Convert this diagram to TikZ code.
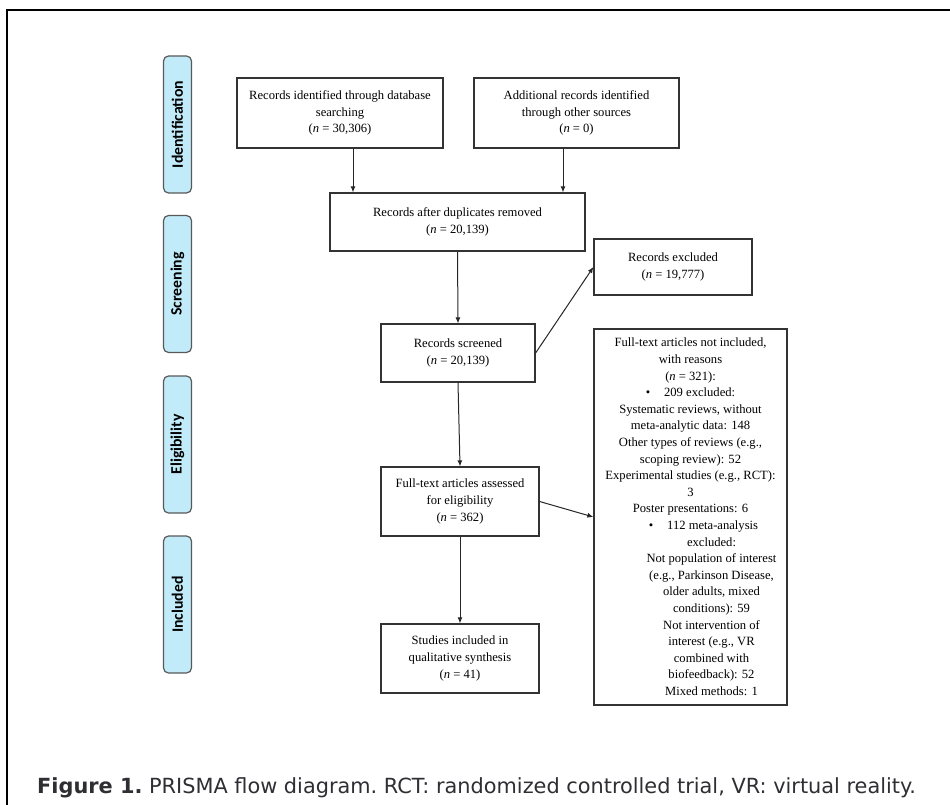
\documentclass[tikz,border=0pt]{standalone}
\usepackage{fontspec}
\setmainfont{Liberation Serif}
\newfontfamily\barfont{Carlito}
\newfontfamily\capfont{DejaVu Sans}
\usetikzlibrary{arrows.meta}
\definecolor{barblue}{HTML}{C2EBFA}
\definecolor{capgray}{HTML}{2E2E33}

\begin{document}
\begin{tikzpicture}[x=1pt,y=-1pt,
	box/.style={draw=black!80,line width=1.2pt,fill=white,align=center,inner sep=2pt,font=\fontsize{12.6}{16.6}\selectfont},
	bar/.style={draw=black!65,line width=1.2pt,fill=barblue,rounded corners=5pt,rotate=90,minimum height=28pt,font=\barfont\bfseries\fontsize{15.8}{18}\selectfont},
	arr/.style={-{Latex[length=6pt,width=5pt]},line width=1pt,draw=black!85}]%PRISMA
	\useasboundingbox (0,0) rectangle (950,805);
	\draw[line width=2pt] (7,805)--(7,10)--(950,10);
	%phase bars
	\foreach \nm/\lab/\y/\h in {ident/Identification/124.5/137,screen/Screening/284/137,elig/Eligibility/444.5/137,incl/Included/604.5/137}
	\node[bar,minimum width=\h pt] (\nm) at (177.5,\y) {\lab};
	%boxes
	\node[box,minimum width=206pt,minimum height=70pt] (rec) at (340,113) {Records identified through database\\searching\\(\textit{n} = 30,306)};
	\node[box,minimum width=205pt,minimum height=70pt] (add) at (576.5,113) {Additional records identified\\through other sources\\(\textit{n} = 0)};
	\node[box,minimum width=255pt,minimum height=58pt] (dup) at (457.5,222) {Records after duplicates removed\\(\textit{n} = 20,139)};
	\node[box,minimum width=158pt,minimum height=56pt] (excl) at (673,267) {Records excluded\\(\textit{n} = 19,777)};
	\node[box,minimum width=154pt,minimum height=58pt] (screened) at (458,353) {Records screened\\(\textit{n} = 20,139)};
	\node[box,minimum width=158pt,minimum height=69pt] (full) at (460,501.5) {Full-text articles assessed\\for eligibility\\(\textit{n} = 362)};
	\node[box,minimum width=158pt,minimum height=69pt] (studies) at (460,658.5) {Studies included in\\qualitative synthesis\\(\textit{n} = 41)};
	\node[box,minimum width=193pt,minimum height=376pt] (reasons) at (690.5,517) {Full-text articles not included,\\with reasons\\(\textit{n} = 321):\\
		\textbullet\hspace{1.1em}209 excluded:\\Systematic reviews, without\\meta-analytic data: 148\\Other types of reviews (e.g.,\\scoping review): 52\\Experimental studies (e.g., RCT):\\3\\Poster presentations: 6\\
		\hspace*{26pt}\textbullet\hspace{1.1em}112 meta-analysis\\\hspace*{42pt}excluded:\\\hspace*{42pt}Not population of interest\\\hspace*{42pt}(e.g., Parkinson Disease,\\\hspace*{42pt}older adults, mixed\\\hspace*{42pt}conditions): 59\\\hspace*{42pt}Not intervention of\\\hspace*{42pt}interest (e.g., VR\\\hspace*{42pt}combined with\\\hspace*{42pt}biofeedback): 52\\\hspace*{42pt}Mixed methods: 1};
	%arrows
	\draw[arr] ([xshift=13pt]rec.south) -- ([xshift=13pt]rec.south |- dup.north);
	\draw[arr] ([xshift=-13.5pt]add.south) -- ([xshift=-13.5pt]add.south |- dup.north);
	\draw[arr] (dup.south) -- (screened.north);
	\draw[arr] (screened.east) -- (excl.west);
	\draw[arr] (screened.south) -- (full.north);
	\draw[arr] (full.east) -- (reasons.west);
	\draw[arr] (full.south) -- (studies.north);
	%caption
	\node[anchor=base west,inner sep=0pt,text=capgray,font=\capfont\fontsize{20.85}{24}\selectfont\frenchspacing] (cap) at (37,793) {\textbf{Figure 1.} PRISMA flow diagram. RCT: randomized controlled trial, VR: virtual reality.};
\end{tikzpicture}
\end{document}
